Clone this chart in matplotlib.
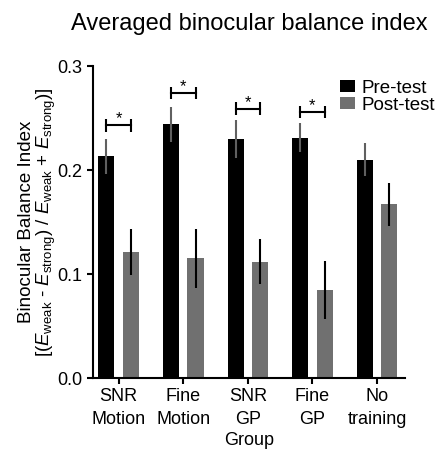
import numpy as np
import matplotlib.pyplot as plt

plt.rcParams['font.family'] = ['Liberation Sans', 'DejaVu Sans']
plt.rcParams['mathtext.fontset'] = 'custom'
plt.rcParams['mathtext.rm'] = 'Liberation Sans'
plt.rcParams['mathtext.it'] = 'Liberation Sans:italic'

# data
groups = ['SNR\nMotion', 'Fine\nMotion', 'SNR\nGP', 'Fine\nGP', 'No\ntraining']
pre_mean = [0.213, 0.244, 0.230, 0.231, 0.210]
pre_err = [0.017, 0.017, 0.018, 0.014, 0.016]
post_mean = [0.121, 0.115, 0.112, 0.085, 0.167]
post_err = [0.022, 0.028, 0.022, 0.028, 0.021]
sig_groups = [0, 1, 2, 3]
sig_heights = [0.243, 0.274, 0.259, 0.256]


def main():
    fig = plt.figure(figsize=(4.40, 4.49), dpi=100)
    ax = fig.add_axes([0.211, 0.158, 0.709, 0.695])

    x = np.arange(len(groups))
    w = 0.25
    off = 0.19

    ax.bar(x - off, pre_mean, w, color='black', label='Pre-test', zorder=2)
    ax.bar(x + off, post_mean, w, color='#707070', label='Post-test', zorder=2)
    ax.errorbar(x - off, pre_mean, yerr=pre_err, fmt='none',
                ecolor='#606060', elinewidth=1.5, capsize=0, zorder=3)
    ax.errorbar(x + off, post_mean, yerr=post_err, fmt='none',
                ecolor='black', elinewidth=1.5, capsize=0, zorder=3)

    # significance brackets
    for g, h in zip(sig_groups, sig_heights):
        x1, x2 = g - off, g + off
        ax.plot([x1, x2], [h, h], color='black', lw=1.5)
        ax.vlines([x1, x2], h - 0.006, h + 0.006, color='black', lw=1.5)
        ax.text(g, h + 0.006, '*', ha='center', va='center', fontsize=12)

    ax.set_xlim(-0.40, len(groups) - 1 + 0.43)
    ax.set_ylim(0, 0.3)
    ax.set_yticks([0.0, 0.1, 0.2, 0.3])
    ax.set_yticklabels(['0.0', '0.1', '0.2', '0.3'])
    ax.set_xticks(x)
    ax.set_xticklabels(groups, linespacing=1.45)
    ax.tick_params(labelsize=13, width=1.5, length=4, direction='out')

    for s in ['top', 'right']:
        ax.spines[s].set_visible(False)
    for s in ['left', 'bottom']:
        ax.spines[s].set_linewidth(1.5)

    ax.set_xlabel('Group', fontsize=13, labelpad=2.5)
    ax.set_ylabel('Binocular Balance Index\n'
                  r'[($E_{\rm weak}$ - $E_{\rm strong}$) / '
                  r'$E_{\rm weak}$ + $E_{\rm strong}$)]',
                  fontsize=13.5, linespacing=1.0, labelpad=-0.5)

    ax.legend(loc='upper right', bbox_to_anchor=(1.12, 0.98), frameon=False,
              fontsize=13.5, handlelength=0.8, handleheight=0.6,
              handletextpad=0.35, labelspacing=0.0, borderaxespad=0)

    ax.set_title('Averaged binocular balance index', fontsize=17, pad=26)

    fig.savefig('out.png', dpi=100)


if __name__ == '__main__':
    main()
